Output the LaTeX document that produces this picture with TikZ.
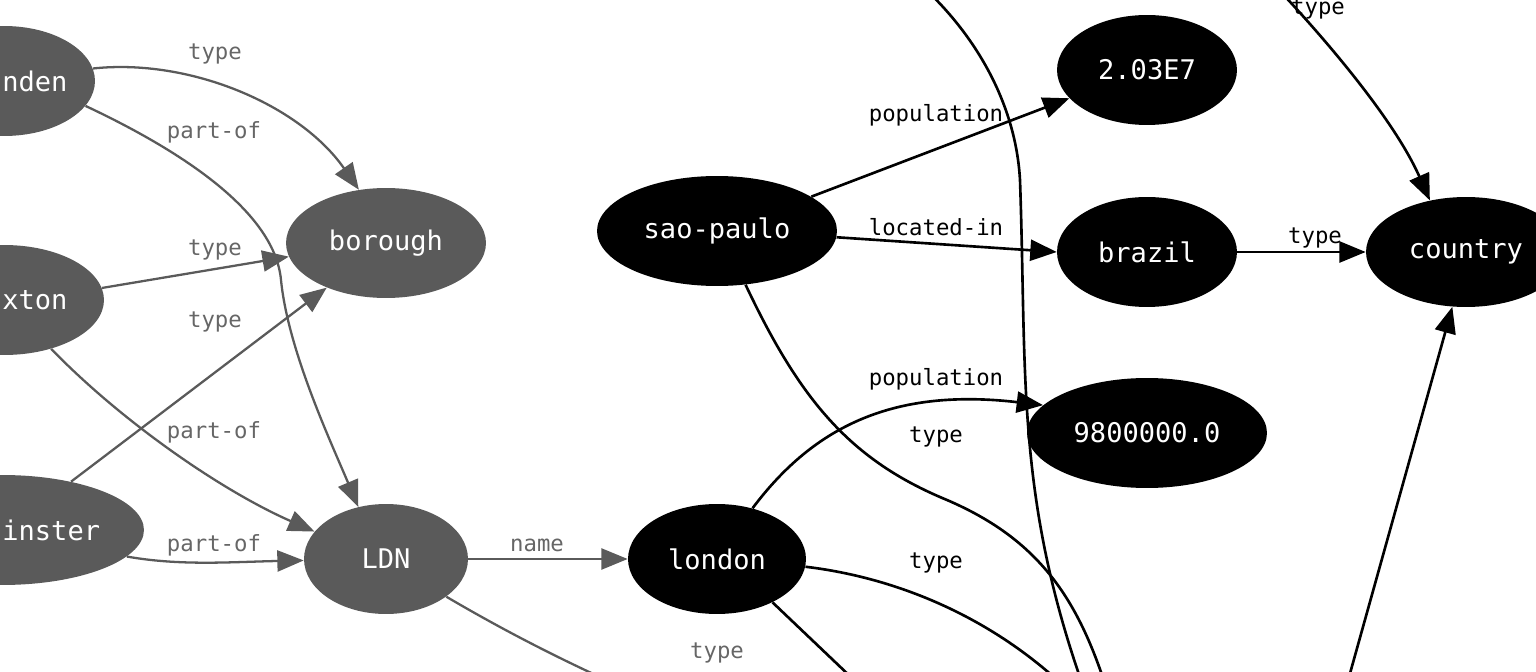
\documentclass[tikz,border=0pt]{standalone}
\usepackage{fontspec}
\setmonofont{DejaVu Sans Mono}
\usetikzlibrary{arrows.meta, shapes.geometric}
\definecolor{grayent}{HTML}{5A5A5A}
\definecolor{graylbl}{HTML}{666666}

\begin{document}
\begin{tikzpicture}[
    x=0.02cm, y=-0.02cm,
    >={Triangle[length=15pt, width=12pt]},
    gnode/.style={
        ellipse, fill=grayent, text=white, inner sep=0pt,
        minimum height=2.2cm, font=\ttfamily\fontsize{15.4}{18}\selectfont,
    },
    bnode/.style={gnode, fill=black},
    ntxt/.style={text=white, inner sep=0pt, anchor=west, font=\ttfamily\fontsize{15.4}{18}\selectfont},
    garr/.style={->, line width=1.3pt, draw=grayent},
    barr/.style={->, line width=1.5pt, draw=black},
    glbl/.style={font=\ttfamily\fontsize{12.7}{15}\selectfont, text=graylbl, inner sep=0pt},
    blbl/.style={glbl, text=black},
]
\useasboundingbox (0,0) rectangle (1536,672);
\clip (0,0) rectangle (1536,672);

% === London side (grey) ===
\node[gnode, minimum width=3.64cm] (camden) at (4,81) {};
\node[gnode, minimum width=4.0cm] (brixton) at (4,300) {};
\node[gnode, minimum width=5.68cm] (westminster) at (2,530) {};
\node[ntxt] (camdentxt) at (2,81) {nden};
\node[ntxt] (brixtontxt) at (2,300) {xton};
\node[ntxt] (westminstertxt) at (2,530) {inster};
\node[gnode, minimum width=4.0cm] (borough) at (386,243) {borough};
\node[gnode, minimum width=3.28cm] (ldn) at (386,559) {LDN};

% === Cities and values (black) ===
\node[bnode, minimum width=3.56cm] (london) at (717,559) {london};
\node[bnode, minimum width=4.8cm] (saopaulo) at (717,231) {sao-paulo};
\node[bnode, minimum width=3.6cm] (popsp) at (1147,70) {2.03E7};
\node[bnode, minimum width=3.6cm] (brazil) at (1147,252) {brazil};
\node[bnode, minimum width=4.0cm] (country) at (1466,252) {country};
\node[bnode, minimum width=4.8cm] (popldn) at (1147,433) {9800000.0};

% free ends running off the picture
\coordinate (offldn) at (700,720);
\coordinate (offsp) at (1110,700);
\coordinate (offlon) at (1078,700);
\coordinate (offlon2) at (875,700);
\coordinate (offtop) at (890,-40);
\coordinate (offbot) at (1088,700);
\coordinate (offtopc) at (1250,-40);
\coordinate (offbotc) at (1337,720);

% === grey edges ===
\draw[garr] (camden.8) .. controls (190,58) and (300,105) .. (borough.117);
\draw[garr] (camden.-17) .. controls (190,155) and (275,215) .. (281,280)
    .. controls (288,350) and (330,440) .. (ldn.118);
\draw[garr] (brixton.7) -- (borough.188);
\draw[garr] (westminster.35) -- (borough.217);
\draw[garr] (brixton.-46) .. controls (120,420) and (220,490) .. (ldn.159);
\draw[garr] (westminster.-12) .. controls (180,566) and (230,562) .. (ldn.181);
\draw[garr] (ldn.east) -- (london.west);
\draw[line width=1.3pt, draw=grayent] (ldn.-32) .. controls (520,640) and (600,680) .. (offldn);

\node[glbl] (l1) at (215,54) {type};
\node[glbl] (l2) at (214,132) {part-of};
\node[glbl] (l3) at (215,250) {type};
\node[glbl] (l4) at (215,322) {type};
\node[glbl] (l5) at (214,432) {part-of};
\node[glbl] (l6) at (214,545) {part-of};
\node[glbl] (l7) at (537,545) {name};
\node[glbl] (l8) at (717,653) {type};

% === black edges ===
\draw[barr] (saopaulo.20) -- (popsp.200);
\draw[barr] (saopaulo.-3) -- (brazil.west);
\draw[barr] (brazil.east) -- (country.west);
\draw[barr] (offtopc) .. controls (1300,10) and (1390,110) .. (country.125);
\draw[barr] (offbotc) -- (country.256);
\draw[barr] (london.55) .. controls (815,425) and (895,388) .. (popldn.165);
\draw[line width=1.5pt] (saopaulo.-62) .. controls (800,400) and (850,460) .. (947,500)
    .. controls (1040,540) and (1080,600) .. (offsp);
\draw[line width=1.5pt] (london.-5) .. controls (900,578) and (1000,620) .. (offlon);
\draw[line width=1.5pt] (london.-38) -- (offlon2);
\draw[line width=1.5pt] (offtop) .. controls (960,10) and (1015,90) .. (1020,180)
    .. controls (1027,380) and (1015,500) .. (offbot);

\node[blbl] (l9) at (936,115) {population};
\node[blbl] (l10) at (936,227) {located-in};
\node[blbl] (l11) at (1315,238) {type};
\node[blbl] (l12) at (1318,9) {type};
\node[blbl] (l13) at (936,379) {population};
\node[blbl] (l14) at (936,437) {type};
\node[blbl] (l15) at (936,563) {type};

\end{tikzpicture}
\end{document}
